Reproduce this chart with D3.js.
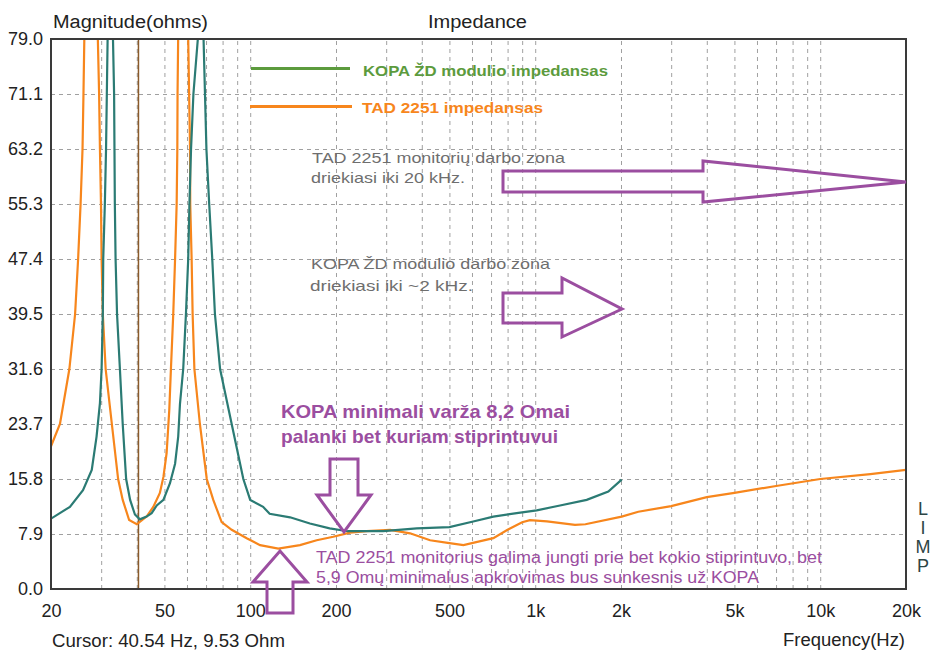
<!DOCTYPE html>
<html><head><meta charset="utf-8">
<script src="https://cdn.jsdelivr.net/npm/d3@7"></script>
<style>
html,body{margin:0;padding:0;background:#fff;}
svg{display:block;font-family:"Liberation Sans",Arial,sans-serif;}
</style></head>
<body>
<svg id="chart" width="940" height="657"></svg>
<script>
// ---- data ----
const kopaFreq = [20,23.3,25.9,27.8,28.9,29.7,30.1,30.4,30.5,30.9,31.2,31.4,31.6,32.3,33.0,33.3,33.4,33.5,33.7,34.1,34.9,35.7,36.7,37.9,39.4,41.0,43.3,45.1,47.0,49.6,52.3,54.5,55.9,56.7,58.2,59.5,60.6,61.2,62.0,63.2,65.5,68.5,68.6,69.4,70.2,71.8,73.6,75.2,78.4,86.1,94.6,100,111,117,138,162,190,220,293,384,500,606,713,861,1012,1222,1516,1805,2011];
const kopaOhm  = [10.1,11.8,14.2,17.1,21.9,26.7,31.6,39.5,47.4,55.3,63.2,71.1,79,130,79,71.1,63.2,55.3,47.4,39.5,31.6,23.7,15.8,12.8,10.7,10.0,10.4,10.9,12.0,12.8,15.2,18.0,21.9,26.6,31.6,39.5,47.4,55.3,63.2,71.1,79,130,79,71.1,63.2,55.3,47.4,39.5,31.6,23.7,15.8,12.8,11.8,10.8,10.3,9.4,8.7,8.3,8.3,8.7,8.9,9.7,10.4,10.9,11.3,12.0,12.8,14.0,15.7,15.7];

const tadFreq = [20,21.5,23.2,24.3,24.9,25.4,25.8,26.0,27.6,29.2,29.5,29.7,29.95,30.1,30.4,31.1,32.7,34.4,35.7,37.6,40.0,43.3,45.7,48.2,49.6,50.9,52.0,52.7,53.7,54.5,55.2,55.5,55.6,58,60.6,61.5,61.6,62.3,62.8,63.7,66.6,70.4,74.2,79.4,86.1,97.2,108.3,125.5,149.5,171.1,195.6,223.9,256.3,309.6,363.8,427.6,500,560,713,800,900,958,1100,1379,1500,2011,2300,3000,4000,5000,7000,10000,15000,20000];
const tadOhm  = [20.5,23.7,31.6,39.5,47.4,55.3,63.2,71.1,140,79,71.1,63.2,55.3,47.4,39.5,31.6,23.7,15.8,12.8,9.9,9.3,10.4,11.8,13.8,16.1,19.5,25.7,31.6,39.5,47.4,55.3,63.2,71.1,140,79,63.2,55.3,47.4,39.5,31.6,23.7,15.8,12.8,9.6,8.5,7.3,6.3,5.8,6.3,7.0,7.5,8.1,8.3,8.5,8.0,7.0,6.6,6.3,7.3,8.5,9.6,9.9,9.7,9.2,9.3,10.4,11.1,11.9,13.2,13.8,14.8,15.8,16.5,17.1];

const yTicks = [0,7.9,15.8,23.7,31.6,39.5,47.4,55.3,63.2,71.1,79.0];
const xTickValues = [20,50,100,200,500,1000,2000,5000,10000,20000];
const xTickLabels = ["20","50","100","200","500","1k","2k","5k","10k","20k"];
const xGridValues = [30,40,50,60,70,80,90,100,200,300,400,500,600,700,800,900,1000,2000,3000,4000,5000,6000,7000,8000,9000,10000];
const cursorFreq = 40.54;
const seriesNames = ["KOPA ŽD modulio impedansas","TAD 2251 impedansas"];

// ---- layout ----
const L=51, R=906, T=39, B=589;
const svg = d3.select("#chart");
const x = d3.scaleLog().domain([20,20000]).range([L,R]);
const y = d3.scaleLinear().domain([0,79]).range([B,T]);
const teal="#2b7b74", orange="#f7861c", green="#5c9b3d", purple="#9b4ea0", grid="#a0a0a0";

// grid
const gy = svg.append("g").attr("transform",`translate(${L},0)`)
  .call(d3.axisLeft(y).tickValues(yTicks.slice(1,-1)).tickSize(-(R-L)).tickFormat(""));
gy.select(".domain").remove();
gy.selectAll("line").attr("stroke",grid).attr("stroke-dasharray","4,4").attr("stroke-width",1);
const gx = svg.append("g").attr("transform",`translate(0,${B})`)
  .call(d3.axisBottom(x).tickValues(xGridValues).tickSize(-(B-T)).tickFormat(""));
gx.select(".domain").remove();
gx.selectAll("line").attr("stroke",grid).attr("stroke-dasharray","4,4").attr("stroke-width",1);

// cursor
svg.append("line").attr("x1",x(cursorFreq)).attr("x2",x(cursorFreq)).attr("y1",T).attr("y2",B)
  .attr("stroke","#8a5a2a").attr("stroke-width",1.5);

// clip
svg.append("clipPath").attr("id","clip").append("rect").attr("x",L).attr("y",T).attr("width",R-L).attr("height",B-T);

const line = d3.line().x(d=>x(d[0])).y(d=>y(d[1]));
svg.append("path").datum(tadFreq.map((f,i)=>[f,tadOhm[i]])).attr("d",line)
  .attr("fill","none").attr("stroke",orange).attr("stroke-width",2.2).attr("clip-path","url(#clip)");
svg.append("path").datum(kopaFreq.map((f,i)=>[f,kopaOhm[i]])).attr("d",line)
  .attr("fill","none").attr("stroke",teal).attr("stroke-width",2.2).attr("clip-path","url(#clip)");

// frame
svg.append("rect").attr("x",L).attr("y",T).attr("width",R-L).attr("height",B-T)
  .attr("fill","none").attr("stroke","#3a3a3a").attr("stroke-width",2);

// y axis labels
const ya = svg.append("g").attr("transform",`translate(${L},0)`)
  .call(d3.axisLeft(y).tickValues(yTicks).tickSize(0).tickPadding(8).tickFormat(d3.format(".1f")));
ya.select(".domain").remove();
ya.selectAll("text").attr("font-size",18).attr("fill","#222").attr("font-family","Liberation Sans, Arial");
// x axis labels
const xa = svg.append("g").attr("transform",`translate(0,${B})`)
  .call(d3.axisBottom(x).tickValues(xTickValues).tickSize(0).tickPadding(0).tickFormat((d,i)=>xTickLabels[i]));
xa.select(".domain").remove();
xa.selectAll("text").attr("font-size",18).attr("fill","#222").attr("font-family","Liberation Sans, Arial")
  .attr("dy",null).attr("y",28);

// titles
const txt=(s,xx,yy,o={})=>{const t=svg.append("text").attr("x",xx).attr("y",yy).text(s)
  .attr("font-size",o.size||18).attr("fill",o.fill||"#222").attr("text-anchor",o.anchor||"start")
  .attr("font-weight",o.weight||"normal");
  if(o.len) t.attr("textLength",o.len).attr("lengthAdjust","spacingAndGlyphs");
  return t;};
txt("Magnitude(ohms)",53,28,{len:155});
txt("Impedance",428,28,{len:99});
txt("Cursor: 40.54 Hz, 9.53 Ohm",52,647,{len:233});
txt("Frequency(Hz)",783,646,{len:122});
["L","I","M","P"].forEach((c,i)=>txt(c,923,515+i*19,{anchor:"middle",fill:"#2d4545"}));

// legend
svg.append("line").attr("x1",251).attr("x2",350).attr("y1",68.5).attr("y2",68.5).attr("stroke",green).attr("stroke-width",3);
txt(seriesNames[0],363,76,{size:15,fill:green,weight:"bold",len:245});
svg.append("line").attr("x1",250).attr("x2",352).attr("y1",106.5).attr("y2",106.5).attr("stroke",orange).attr("stroke-width",3);
txt(seriesNames[1],362,113,{size:15,fill:orange,weight:"bold",len:181});

// annotations
const gray="#6e6e6e";
txt("TAD 2251 monitorių darbo zona",312,163,{size:15,fill:gray,len:253});
txt("driekiasi iki 20 kHz.",311,183,{size:15,fill:gray,len:154});
txt("KOPA ŽD modulio darbo zona",311,269,{size:15,fill:gray,len:239});
txt("driekiasi iki ~2 kHz.",310,291,{size:15,fill:gray,len:163});
txt("KOPA minimali varža 8,2 Omai",281,418,{size:19,fill:purple,weight:"bold",len:289});
txt("palanki bet kuriam stiprintuvui",281,443,{size:19,fill:purple,weight:"bold",len:277});
txt("TAD 2251 monitorius galima jungti prie bet kokio stiprintuvo, bet",316,563,{size:16,fill:purple,len:506});
txt("5,9 Omų minimalus apkrovimas bus sunkesnis už KOPA",316,583,{size:16,fill:purple,len:443});

const arrow = pts => svg.append("path").attr("d","M"+pts.map(p=>p.join(",")).join("L")+"Z")
  .attr("fill","none").attr("stroke",purple).attr("stroke-width",3).attr("stroke-linejoin","miter");
arrow([[503,171],[703,171],[703,161],[906,182],[703,202],[703,192],[503,192]]);
arrow([[503,293],[562,293],[562,278],[622,309],[562,337],[562,323],[503,323]]);
arrow([[330,459],[358,459],[358,495],[371,495],[344,532],[317,495],[330,495]]);
arrow([[267,613],[293,613],[293,582],[307,582],[280,551],[253,582],[267,582]]);
</script>
</body></html>
